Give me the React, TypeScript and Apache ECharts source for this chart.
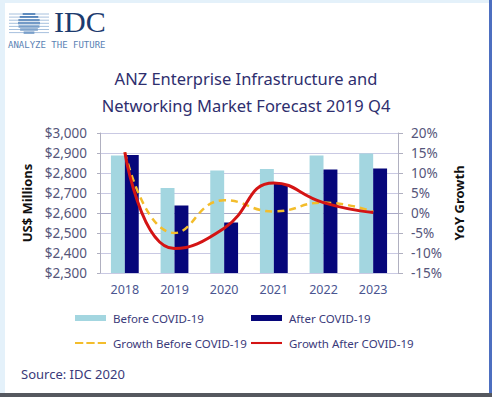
import React, { useEffect, useRef } from "react";
import * as echarts from "echarts";

const categories = ["2018", "2019", "2020", "2021", "2022", "2023"];
const beforeCovid = [2888, 2725, 2812, 2820, 2887, 2898];
const afterCovid = [2890, 2637, 2552, 2745, 2817, 2822];
const growthBefore = [15.2, -5.0, 3.2, 0.4, 2.6, 0.3];
const growthAfter = [15.2, -8.9, -3.8, 7.5, 2.6, 0.1];
const leftTicks = { min: 2300, max: 3000, interval: 100 };
const rightTicks = { min: -15, max: 20, interval: 5 };

const FONT = "'Noto Sans', 'Open Sans', sans-serif";
const TEXT_NAVY = "#3a3a7a";

function globeStripes() {
  const els: any[] = [];
  const cx = 29;
  const cy = 23;
  const r = 11;
  for (let i = 0; i < 7; i++) {
    const y = 13 + i * 3.1;
    const dy = Math.abs(y + 1 - cy);
    const half = Math.sqrt(Math.max(r * r - dy * dy, 4));
    els.push({
      type: "rect",
      shape: { x: cx - half, y, width: half * 2, height: 2 },
      style: { fill: "#3f74b0" },
    });
    els.push({
      type: "line",
      shape: { x1: 9, y1: y + 1, x2: 49, y2: y + 1 },
      style: { stroke: "#8fb0d4", lineWidth: 0.8 },
    });
  }
  return els;
}

export default function App() {
  const ref = useRef<HTMLDivElement>(null);
  useEffect(() => {
    document.body.style.margin = "0";
    const chart = echarts.init(ref.current!, undefined, { renderer: "svg" });
    const legendBase = {
      itemWidth: 31,
      itemHeight: 6,
      itemGap: 0,
      textStyle: { color: TEXT_NAVY, fontSize: 11.5, fontFamily: FONT, padding: [0, 0, 0, 2] },
      padding: 0,
    };
    chart.setOption({
      animation: false,
      backgroundColor: "#ffffff",
      title: {
        text: "ANZ Enterprise Infrastructure and\nNetworking Market Forecast 2019 Q4",
        left: "center",
        top: 60,
        textStyle: {
          color: "#2e2e6e",
          fontSize: 16.5,
          fontWeight: "normal",
          fontFamily: FONT,
          lineHeight: 27,
        },
      },
      grid: { left: 100, right: 94, top: 133, bottom: 124 },
      legend: [
        { ...legendBase, left: 75, top: 312, data: [{ name: "Before COVID-19", icon: "rect" }] },
        { ...legendBase, left: 251, top: 312, data: [{ name: "After COVID-19", icon: "rect" }] },
        {
          ...legendBase,
          left: 75,
          top: 337,
          itemHeight: 3,
          data: [
            {
              name: "Growth Before COVID-19",
              icon: "path://M0,0H8V2H0Z M11,0H19V2H11Z M22,0H30V2H22Z",
              itemStyle: { color: "#f3bd2c" },
            },
          ],
        },
        {
          ...legendBase,
          left: 251,
          top: 337,
          itemHeight: 3,
          data: [
            {
              name: "Growth After COVID-19",
              icon: "path://M0,0H30V2H0Z",
              itemStyle: { color: "#d41414" },
            },
          ],
        },
      ],
      xAxis: {
        type: "category",
        data: categories,
        axisLine: { lineStyle: { color: "#a8a8c8", width: 1 } },
        axisTick: { show: false },
        axisLabel: { color: "#4a5590", fontSize: 12.5, fontFamily: FONT, margin: 10 },
      },
      yAxis: [
        {
          type: "value",
          ...leftTicks,
          name: "US$ Millions",
          nameLocation: "middle",
          nameGap: 60,
          nameRotate: 90,
          nameTextStyle: { color: "#111", fontSize: 13, fontWeight: "bold", fontFamily: FONT },
          axisLine: { show: true, lineStyle: { color: "#b0b0c0" } },
          axisTick: { show: true, length: 3, lineStyle: { color: "#b0b0c0" } },
          axisLabel: {
            color: "#55557a",
            fontSize: 13.5,
            fontFamily: FONT,
            margin: 13,
            formatter: (v: number) => "$" + v.toLocaleString("en-US"),
          },
          splitLine: { lineStyle: { color: "#c9c9e3", width: 1 } },
        },
        {
          type: "value",
          ...rightTicks,
          position: "right",
          name: "YoY Growth",
          nameLocation: "middle",
          nameGap: 51,
          nameRotate: 90,
          nameTextStyle: { color: "#111", fontSize: 13, fontWeight: "bold", fontFamily: FONT },
          axisLine: { show: true, lineStyle: { color: "#b0b0c0" } },
          axisTick: { show: true, length: 5, lineStyle: { color: "#b0b0c0" } },
          axisLabel: {
            color: "#55557a",
            fontSize: 13.5,
            fontFamily: FONT,
            margin: 13,
            formatter: (v: number) => v + "%",
          },
          splitLine: { show: false },
        },
      ],
      series: [
        {
          name: "Before COVID-19",
          type: "bar",
          data: beforeCovid,
          itemStyle: { color: "#a3d6e0" },
          barGap: "0%",
          barCategoryGap: "44%",
        },
        {
          name: "After COVID-19",
          type: "bar",
          data: afterCovid,
          itemStyle: { color: "#06067a" },
          barGap: "0%",
          barCategoryGap: "44%",
        },
        {
          name: "Growth Before COVID-19",
          type: "line",
          yAxisIndex: 1,
          data: growthBefore,
          smooth: 0.5,
          symbol: "none",
          lineStyle: { color: "#f3bd2c", width: 2.5, type: [7, 5] },
          itemStyle: { color: "#f3bd2c" },
        },
        {
          name: "Growth After COVID-19",
          type: "line",
          yAxisIndex: 1,
          data: growthAfter,
          smooth: 0.5,
          symbol: "none",
          lineStyle: { color: "#d41414", width: 3 },
          itemStyle: { color: "#d41414" },
        },
      ],
      graphic: [
        { type: "rect", shape: { x: 0, y: 0, width: 5, height: 397 }, style: { fill: "#e4f1fa" } },
        { type: "rect", shape: { x: 0, y: 0, width: 492, height: 3 }, style: { fill: "#e4f1fa" } },
        { type: "rect", shape: { x: 489, y: 0, width: 3, height: 397 }, style: { fill: "#4d6fc0" } },
        { type: "rect", shape: { x: 0, y: 393, width: 492, height: 4 }, style: { fill: "#55585f" } },
        ...globeStripes(),
        {
          type: "text",
          left: 54,
          top: 6,
          style: {
            text: "IDC",
            fill: "#1c3a6e",
            font: "normal 30px 'Liberation Serif', 'DejaVu Serif', serif",
          },
        },
        {
          type: "text",
          left: 8,
          top: 40,
          style: {
            text: "ANALYZE THE FUTURE",
            fill: "#5a82b4",
            font: "normal 9px 'DejaVu Sans Mono', monospace",
          },
        },
        {
          type: "text",
          left: 21,
          top: 367,
          style: {
            text: "Source: IDC 2020",
            fill: TEXT_NAVY,
            font: "normal 13px 'Noto Sans', sans-serif",
          },
        },
      ],
    });
    return () => chart.dispose();
  }, []);
  return <div ref={ref} style={{ width: 492, height: 397 }} />;
}
